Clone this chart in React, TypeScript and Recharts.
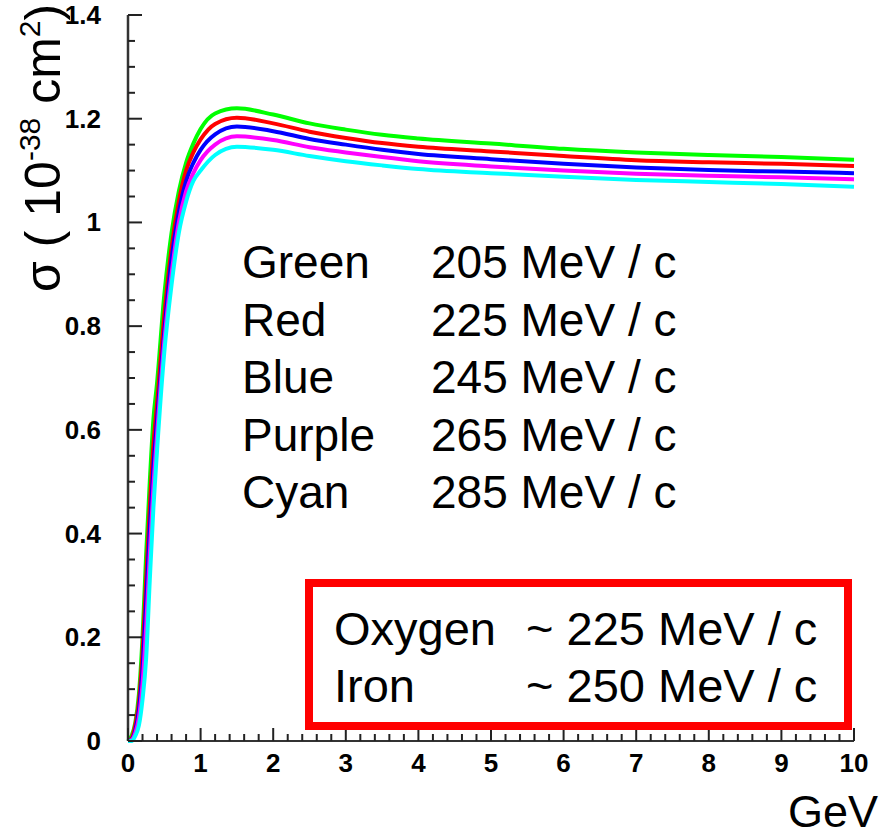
import { LineChart, Line, XAxis, YAxis } from "recharts";

// energy (GeV) sample points
const energies = [0, 0.05, 0.1, 0.15, 0.2, 0.25, 0.3, 0.35, 0.4, 0.5, 0.6, 0.7, 0.8, 0.9, 1.0, 1.2, 1.5, 2, 2.5, 3, 3.5, 4, 5, 6, 7, 8, 9, 10];

// cross sections (1e-38 cm^2), one array per Fermi momentum
const green205 = [0, 0.01, 0.035, 0.09, 0.2, 0.36, 0.5, 0.62, 0.69, 0.86, 0.98, 1.06, 1.115, 1.152, 1.18, 1.21, 1.22, 1.208, 1.191, 1.179, 1.169, 1.162, 1.152, 1.142, 1.135, 1.13, 1.126, 1.121];
const red225 = [0, 0.005, 0.03, 0.075, 0.17, 0.31, 0.45, 0.57, 0.65, 0.82, 0.95, 1.04, 1.1, 1.135, 1.16, 1.19, 1.202, 1.191, 1.175, 1.163, 1.153, 1.146, 1.137, 1.128, 1.12, 1.116, 1.113, 1.109];
const blue245 = [0, 0.003, 0.02, 0.06, 0.14, 0.27, 0.41, 0.53, 0.62, 0.79, 0.93, 1.02, 1.08, 1.115, 1.14, 1.17, 1.185, 1.176, 1.161, 1.15, 1.14, 1.132, 1.122, 1.113, 1.106, 1.101, 1.098, 1.095];
const purple265 = [0, 0.002, 0.015, 0.045, 0.11, 0.22, 0.36, 0.49, 0.59, 0.77, 0.9, 1.0, 1.06, 1.095, 1.12, 1.15, 1.166, 1.159, 1.145, 1.135, 1.126, 1.118, 1.108, 1.1, 1.094, 1.09, 1.087, 1.083];
const cyan285 = [0, 0, 0.01, 0.03, 0.08, 0.16, 0.31, 0.45, 0.56, 0.75, 0.88, 0.98, 1.04, 1.08, 1.1, 1.13, 1.146, 1.14, 1.128, 1.118, 1.11, 1.103, 1.095, 1.088, 1.082, 1.078, 1.074, 1.069];

const legendNames = ["Green", "Red", "Blue", "Purple", "Cyan"];
const legendValues = ["205 MeV / c", "225 MeV / c", "245 MeV / c", "265 MeV / c", "285 MeV / c"];
const boxNames = ["Oxygen", "Iron"];
const boxValues = ["~ 225 MeV / c", "~ 250 MeV / c"];

// ticks: majors every 1 GeV / 0.2, minors every 0.2 GeV / 0.05
const xTicks = Array.from({ length: 51 }, (_, k) => k / 5);
const yTicks = Array.from({ length: 29 }, (_, k) => k / 20);

const data = energies.map((x, i) => ({
  x,
  green: green205[i],
  red: red225[i],
  blue: blue245[i],
  purple: purple265[i],
  cyan: cyan285[i],
}));

const series = [
  { key: "green", color: "#00ff00" },
  { key: "red", color: "#ff0000" },
  { key: "blue", color: "#0000ff" },
  { key: "purple", color: "#ff00ff" },
  { key: "cyan", color: "#00ffff" },
];

const font = "Arial, 'Liberation Sans', Helvetica, sans-serif";

function XTick({ x, y, payload }: any) {
  const v = payload.value;
  const major = Math.abs(v - Math.round(v)) < 1e-6;
  return (
    <g>
      <line x1={x} x2={x} y1={y} y2={y - (major ? 13 : 7)} stroke="#222" strokeWidth={2} />
      {major && (
        <text x={x} y={y + 31} textAnchor="middle" fontFamily={font} fontWeight="bold" fontSize={26} fill="#000">
          {v}
        </text>
      )}
    </g>
  );
}

function YTick({ x, y, payload }: any) {
  const v = payload.value;
  const major = Math.abs(v * 5 - Math.round(v * 5)) < 1e-6;
  return (
    <g>
      <line x1={x} x2={x + (major ? 14 : 7)} y1={y} y2={y} stroke="#222" strokeWidth={2} />
      {major && (
        <text x={x - 27} y={y + 9} textAnchor="end" fontFamily={font} fontWeight="bold" fontSize={26} fill="#000">
          {Math.round(v * 10) / 10}
        </text>
      )}
    </g>
  );
}

export default function App() {
  return (
    <div style={{ position: "absolute", left: 0, top: 0, width: 885, height: 836, background: "#fff" }}>
      <LineChart width={885} height={836} data={data} margin={{ top: 15, right: 31, bottom: 65, left: 68 }}>
        <XAxis
          dataKey="x"
          type="number"
          domain={[0, 10]}
          ticks={xTicks}
          interval={0}
          tickSize={0}
          tickMargin={0}
          height={30}
          axisLine={{ stroke: "#333", strokeWidth: 2 }}
          tick={<XTick />}
        />
        <XAxis
          xAxisId="top"
          orientation="top"
          dataKey="x"
          type="number"
          domain={[0, 10]}
          height={0}
          tick={false}
          tickLine={false}
          axisLine={{ stroke: "#777", strokeWidth: 2 }}
        />
        <YAxis
          type="number"
          domain={[0, 1.4]}
          ticks={yTicks}
          interval={0}
          tickSize={0}
          tickMargin={0}
          width={60}
          axisLine={{ stroke: "#333", strokeWidth: 2.5 }}
          tick={<YTick />}
        />
        <YAxis
          yAxisId="right"
          orientation="right"
          type="number"
          domain={[0, 1.4]}
          width={0}
          tick={false}
          tickLine={false}
          axisLine={{ stroke: "#000", strokeWidth: 2 }}
        />
        {series.map((s) => (
          <Line
            key={s.key}
            type="monotone"
            dataKey={s.key}
            stroke={s.color}
            strokeWidth={4}
            dot={false}
            isAnimationActive={false}
          />
        ))}
      </LineChart>
      <svg
        width={885}
        height={836}
        style={{ position: "absolute", left: 0, top: 0, pointerEvents: "none" }}
        fontFamily={font}
      >
        {legendNames.map((name, i) => (
          <g key={name}>
            <text x={242} y={278 + i * 57.5} fontSize={46} fill="#000">{name}</text>
            <text x={431} y={278 + i * 57.5} fontSize={46} fill="#000">{legendValues[i]}</text>
          </g>
        ))}
        <rect x={309} y={583} width={539} height={143} fill="none" stroke="#ff0000" strokeWidth={8} />
        {boxNames.map((name, i) => (
          <g key={name}>
            <text x={334} y={645 + i * 57} fontSize={47} fill="#000">{name}</text>
            <text x={526} y={645 + i * 57} fontSize={47} fill="#000">{boxValues[i]}</text>
          </g>
        ))}
        <text x={878} y={827} textAnchor="end" fontSize={45} fill="#000">GeV</text>
        <text transform="translate(60,292) rotate(-90)" fontSize={50} fill="#000">
          σ ( 10
          <tspan fontSize={30} dy={-20}>-38</tspan>
          <tspan dy={20}> cm</tspan>
          <tspan fontSize={30} dy={-20}>2</tspan>
          <tspan dy={20}>)</tspan>
        </text>
      </svg>
    </div>
  );
}
